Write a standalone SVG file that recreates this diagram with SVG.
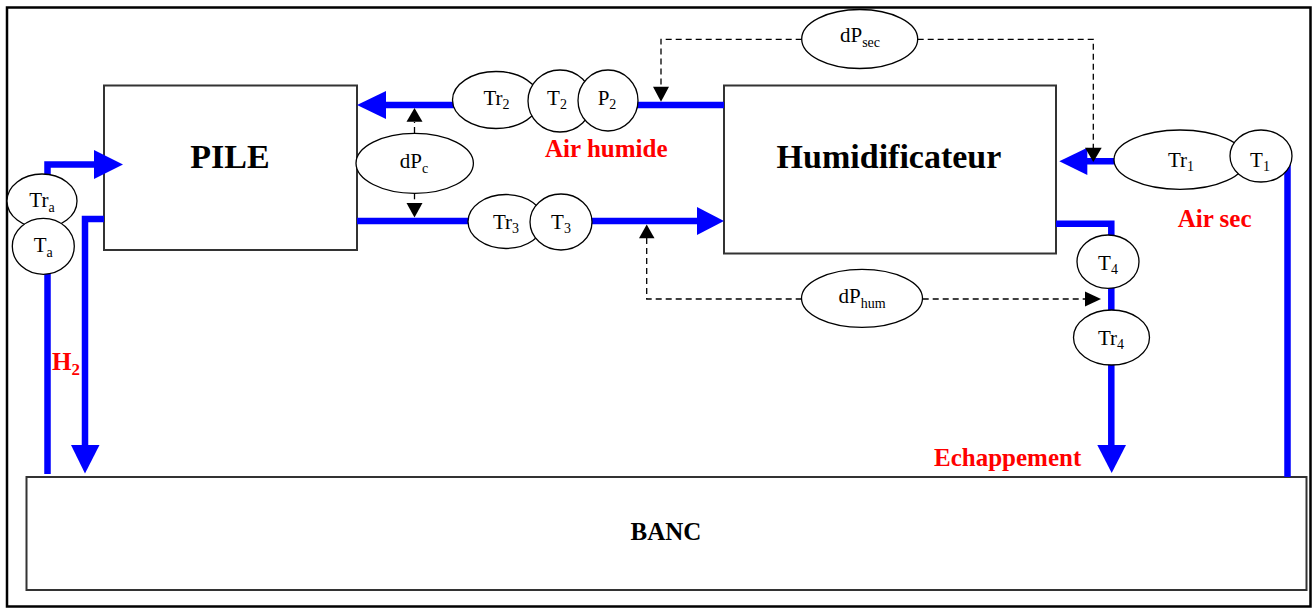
<svg xmlns="http://www.w3.org/2000/svg" width="1313" height="610" viewBox="0 0 1313 610">
<style>
.box{fill:#fff;stroke:#333;stroke-width:2}
.pipe{fill:none;stroke:#0000ff;stroke-width:6.5}
.head{fill:#0000ff;stroke:none}
.dash{fill:none;stroke:#000;stroke-width:1.3;stroke-dasharray:6 4}
.dhead{fill:#000;stroke:none}
.sens{fill:#fff;stroke:#000;stroke-width:1.3}
.lbl{font-family:"Liberation Serif","Times New Roman",serif;font-size:21px;fill:#000;text-anchor:middle}
.sub{font-size:14px}
.big{font-family:"Liberation Serif","Times New Roman",serif;font-weight:bold;font-size:34px;fill:#000;text-anchor:middle}
.banc{font-family:"Liberation Serif","Times New Roman",serif;font-weight:bold;font-size:25px;fill:#000;text-anchor:middle}
.red{font-family:"Liberation Serif","Times New Roman",serif;font-weight:bold;font-size:25px;fill:#ff0000}
</style>
<rect x="7" y="7.5" width="1303.5" height="599" fill="#fff" stroke="#000" stroke-width="2.5"/>
<g id="pile"><rect class="box" x="104" y="85.5" width="253" height="164.5"/><text class="big" x="230" y="168">PILE</text></g>
<g id="humidificateur"><rect class="box" x="724" y="85.5" width="332" height="168"/><text class="big" x="889" y="168">Humidificateur</text></g>
<g id="banc"><rect class="box" x="26.5" y="477" width="1280" height="113"/><text class="banc" x="666" y="540">BANC</text></g>
<g id="connectors">
<polyline class="pipe" points="47.5,474 47.5,164.5 95,164.5"/>
<polygon class="head" points="94,150 123,164.5 94,179"/>
<polyline class="pipe" points="104,219 85,219 85,446"/>
<polygon class="head" points="71,445 99.5,445 85,473.5"/>
<line class="pipe" x1="724" y1="105" x2="385" y2="105"/>
<polygon class="head" points="386,91 357,105 386,119"/>
<line class="pipe" x1="357" y1="221" x2="698" y2="221"/>
<polygon class="head" points="697,207 724,221 697,235"/>
<polyline class="pipe" points="1287.5,477 1287.5,161.3 1086,161.3"/>
<polygon class="head" points="1087.3,147.7 1059.3,161.3 1087.3,175"/>
<polyline class="pipe" points="1056,223.7 1111.3,223.7 1111.3,446"/>
<polygon class="head" points="1097.3,445 1126,445 1111.7,473"/>
<line class="dash" x1="414.5" y1="133" x2="414.5" y2="122"/>
<polygon class="dhead" points="406.5,121.7 422.5,121.7 414.5,108"/>
<line class="dash" x1="414.5" y1="193.3" x2="414.5" y2="203"/>
<polygon class="dhead" points="406.5,203 422.5,203 414.5,217.5"/>
<polyline class="dash" points="801.7,39.3 661,39.3 661,87"/>
<polygon class="dhead" points="653,86.7 669,86.7 661,101.7"/>
<polyline class="dash" points="917.7,39.3 1093.3,39.3 1093.3,148"/>
<polygon class="dhead" points="1085,147.7 1101.7,147.7 1093.3,162"/>
<polyline class="dash" points="801.7,299 646.7,299 646.7,238"/>
<polygon class="dhead" points="639,238.3 654.5,238.3 646.7,224.5"/>
<line class="dash" x1="922.7" y1="299" x2="1085" y2="299"/>
<polygon class="dhead" points="1085,291.5 1085,306.5 1101,299"/>
</g>
<g id="Tra"><ellipse class="sens" cx="42" cy="201" rx="35" ry="27"/><text class="lbl" x="42" y="206.5">Tr<tspan class="sub" dy="5">a</tspan></text></g>
<g id="Ta"><ellipse class="sens" cx="43.3" cy="246.3" rx="31" ry="28"/><text class="lbl" x="43.3" y="251.5">T<tspan class="sub" dy="5">a</tspan></text></g>
<g id="Tr2"><ellipse class="sens" cx="496" cy="100" rx="43.5" ry="28.5"/><text class="lbl" x="496.5" y="105">Tr<tspan class="sub" dy="4">2</tspan></text></g>
<g id="T2"><ellipse class="sens" cx="560" cy="101" rx="32" ry="31"/><text class="lbl" x="557" y="105">T<tspan class="sub" dy="4">2</tspan></text></g>
<g id="P2"><ellipse class="sens" cx="608" cy="100.5" rx="30" ry="30.5"/><text class="lbl" x="607" y="105">P<tspan class="sub" dy="4">2</tspan></text></g>
<g id="dPc"><ellipse class="sens" cx="414.7" cy="163.3" rx="58.7" ry="30"/><text class="lbl" x="414" y="168.3">dP<tspan class="sub" dy="5">c</tspan></text></g>
<g id="Tr3"><ellipse class="sens" cx="506" cy="221.5" rx="38" ry="27"/><text class="lbl" x="506" y="229">Tr<tspan class="sub" dy="4">3</tspan></text></g>
<g id="T3"><ellipse class="sens" cx="561" cy="222" rx="31" ry="28"/><text class="lbl" x="561" y="229">T<tspan class="sub" dy="4">3</tspan></text></g>
<g id="dPsec"><ellipse class="sens" cx="859.7" cy="39" rx="58" ry="29.5"/><text class="lbl" x="860" y="41.5">dP<tspan class="sub" dy="5">sec</tspan></text></g>
<g id="Tr1"><ellipse class="sens" cx="1180" cy="159.7" rx="66" ry="29.7"/><text class="lbl" x="1181" y="166.5">Tr<tspan class="sub" dy="4">1</tspan></text></g>
<g id="T1"><ellipse class="sens" cx="1261" cy="156" rx="31" ry="26"/><text class="lbl" x="1260" y="166.5">T<tspan class="sub" dy="4">1</tspan></text></g>
<g id="dPhum"><ellipse class="sens" cx="862" cy="298.3" rx="60.5" ry="29"/><text class="lbl" x="862" y="303.3">dP<tspan class="sub" dy="5">hum</tspan></text></g>
<g id="T4"><ellipse class="sens" cx="1108" cy="261.7" rx="31" ry="26.7"/><text class="lbl" x="1108" y="270">T<tspan class="sub" dy="4">4</tspan></text></g>
<g id="Tr4"><ellipse class="sens" cx="1111.5" cy="337.5" rx="38" ry="27.5"/><text class="lbl" x="1111" y="345">Tr<tspan class="sub" dy="4">4</tspan></text></g>
<g id="labels">
<text class="red" x="545" y="157">Air humide</text>
<text class="red" x="1177.7" y="227">Air sec</text>
<text class="red" x="934" y="466">Echappement</text>
<text class="red" x="52" y="370">H<tspan font-size="17" dy="5">2</tspan></text>
</g>
</svg>
